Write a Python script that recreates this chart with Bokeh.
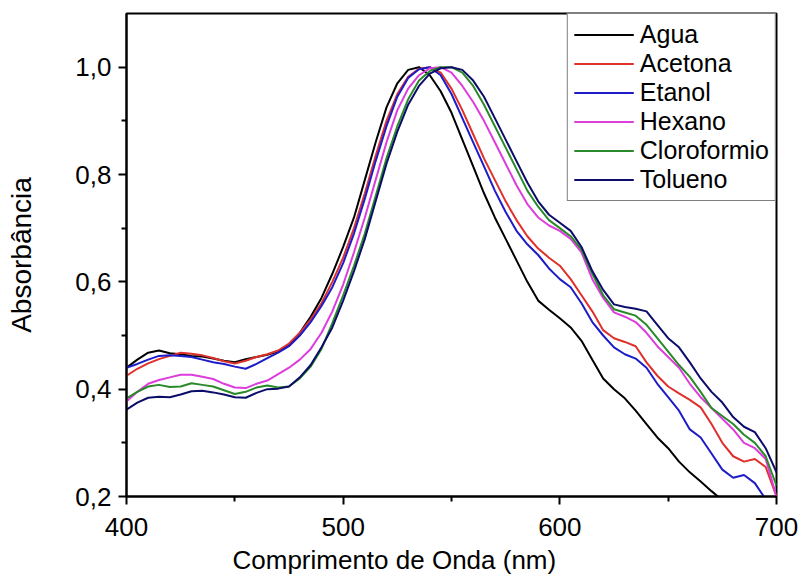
from bokeh.plotting import figure
from bokeh.embed import file_html
from bokeh.resources import INLINE
from bokeh.models import FixedTicker, CustomJSTickFormatter, Range1d, Legend, LegendItem, Title

wavelength = list(range(400, 705, 5))

agua = [0.440, 0.455, 0.468, 0.472, 0.467, 0.465, 0.462, 0.461, 0.457, 0.453,
        0.450, 0.456, 0.460, 0.464, 0.470, 0.482, 0.505, 0.535, 0.570, 0.615,
        0.665, 0.720, 0.790, 0.860, 0.925, 0.970, 0.995, 1.000, 0.985, 0.955,
        0.915, 0.865, 0.815, 0.765, 0.720, 0.680, 0.640, 0.600, 0.565, 0.548,
        0.532, 0.515, 0.490, 0.455, 0.420, 0.400, 0.383, 0.360, 0.335, 0.310,
        0.290, 0.265, 0.245, 0.228, 0.210, 0.193, 0.175, 0.160, 0.145, 0.130,
        0.120]
acetona = [0.425, 0.438, 0.448, 0.456, 0.462, 0.468, 0.466, 0.463, 0.458, 0.452,
           0.448, 0.453, 0.460, 0.465, 0.472, 0.485, 0.505, 0.530, 0.560, 0.600,
           0.645, 0.700, 0.765, 0.835, 0.900, 0.950, 0.982, 0.997, 1.000, 0.990,
           0.960, 0.920, 0.875, 0.830, 0.790, 0.750, 0.715, 0.685, 0.662, 0.645,
           0.630, 0.605, 0.575, 0.545, 0.510, 0.495, 0.488, 0.480, 0.450, 0.425,
           0.405, 0.392, 0.380, 0.366, 0.335, 0.300, 0.275, 0.265, 0.270, 0.255,
           0.200]
etanol = [0.440, 0.447, 0.455, 0.462, 0.463, 0.462, 0.460, 0.455, 0.450, 0.447,
          0.442, 0.438, 0.447, 0.458, 0.468, 0.480, 0.500, 0.525, 0.555, 0.590,
          0.635, 0.690, 0.755, 0.825, 0.890, 0.945, 0.980, 0.996, 1.000, 0.985,
          0.950, 0.905, 0.860, 0.815, 0.770, 0.730, 0.695, 0.670, 0.650, 0.625,
          0.605, 0.590, 0.560, 0.525, 0.500, 0.478, 0.465, 0.457, 0.440, 0.410,
          0.385, 0.360, 0.325, 0.310, 0.280, 0.250, 0.235, 0.240, 0.225, 0.195,
          0.170]
hexano = [0.377, 0.395, 0.410, 0.417, 0.422, 0.427, 0.427, 0.423, 0.419, 0.410,
          0.403, 0.402, 0.410, 0.416, 0.428, 0.440, 0.455, 0.475, 0.505, 0.545,
          0.595, 0.655, 0.720, 0.790, 0.860, 0.920, 0.960, 0.985, 0.998, 1.000,
          0.990, 0.965, 0.935, 0.900, 0.860, 0.820, 0.780, 0.745, 0.720, 0.705,
          0.695, 0.680, 0.655, 0.605, 0.570, 0.543, 0.535, 0.525, 0.505, 0.480,
          0.460, 0.440, 0.410, 0.385, 0.365, 0.345, 0.325, 0.300, 0.290, 0.270,
          0.200]
cloroformio = [0.383, 0.395, 0.405, 0.408, 0.404, 0.405, 0.411, 0.408, 0.405, 0.398,
               0.391, 0.395, 0.403, 0.407, 0.403, 0.405, 0.420, 0.442, 0.475, 0.523,
               0.575, 0.630, 0.690, 0.760, 0.830, 0.890, 0.940, 0.975, 0.993, 1.000,
               1.000, 0.990, 0.965, 0.930, 0.890, 0.850, 0.810, 0.770, 0.740, 0.715,
               0.700, 0.685, 0.660, 0.615, 0.575, 0.549, 0.543, 0.537, 0.520, 0.495,
               0.470, 0.445, 0.423, 0.395, 0.365, 0.350, 0.335, 0.315, 0.300, 0.275,
               0.220]
tolueno = [0.362, 0.375, 0.384, 0.386, 0.385, 0.390, 0.396, 0.397, 0.394, 0.390,
           0.385, 0.384, 0.393, 0.400, 0.401, 0.405, 0.422, 0.445, 0.478, 0.515,
           0.565, 0.620, 0.680, 0.750, 0.820, 0.880, 0.930, 0.965, 0.988, 0.998,
           1.000, 0.995, 0.975, 0.945, 0.905, 0.865, 0.825, 0.785, 0.750, 0.725,
           0.710, 0.695, 0.665, 0.620, 0.585, 0.558, 0.553, 0.550, 0.545, 0.520,
           0.495, 0.478, 0.450, 0.420, 0.395, 0.375, 0.348, 0.330, 0.320, 0.290,
           0.245]

series_names = ["Agua", "Acetona", "Etanol", "Hexano", "Cloroformio", "Tolueno"]
series_values = [agua, acetona, etanol, hexano, cloroformio, tolueno]
colors = ["#000000", "#e0302c", "#1c1cc8", "#dd3ddd", "#2a8a2a", "#0c0c6a"]

x_ticks = [400, 500, 600, 700]
x_minor = [450, 550, 650]
y_ticks = [0.2, 0.4, 0.6, 0.8, 1.0]
y_minor = [0.3, 0.5, 0.7, 0.9]
x_title = "Comprimento de Onda (nm)"
y_title = "Absorbância"

FONT = "Liberation Sans"

p = figure(width=801, height=587, output_backend="svg", toolbar_location=None,
           x_range=Range1d(400, 700), y_range=Range1d(0.2, 1.1),
           min_border_left=126, min_border_right=25, min_border_top=13,
           min_border_bottom=91)

renderers = []
for name, vals, col in zip(series_names, series_values, colors):
    r = p.line(wavelength, vals, line_color=col, line_width=2)
    renderers.append((name, r))

p.xgrid.visible = False
p.ygrid.visible = False
p.outline_line_color = "black"
p.outline_line_width = 2
p.outline_line_alpha = 1

p.xaxis.ticker = FixedTicker(ticks=x_ticks, minor_ticks=x_minor)
p.yaxis.ticker = FixedTicker(ticks=y_ticks, minor_ticks=y_minor)
p.yaxis.formatter = CustomJSTickFormatter(code="return tick.toFixed(1).replace('.', ',');")

for ax in (p.xaxis[0], p.yaxis[0]):
    ax.axis_line_color = "black"
    ax.axis_line_width = 2
    ax.major_tick_line_color = "black"
    ax.major_tick_line_width = 2
    ax.minor_tick_line_color = "black"
    ax.minor_tick_line_width = 2
    ax.major_tick_in = 0
    ax.major_tick_out = 8
    ax.minor_tick_in = 0
    ax.minor_tick_out = 5
    ax.major_label_text_font = FONT
    ax.major_label_text_font_size = "26px"
    ax.major_label_text_color = "black"
    ax.axis_label_text_font = FONT
    ax.axis_label_text_font_style = "normal"
    ax.axis_label_text_color = "black"
    ax.major_label_standoff = 7

p.xaxis.major_label_standoff = 13
p.yaxis.axis_label = y_title
p.yaxis.axis_label_text_font_size = "28px"
p.yaxis.axis_label_standoff = 35

# x title sits left of the frame centre in the original
p.add_layout(Title(text=x_title, align="left", offset=106, standoff=8,
                   vertical_align="bottom",
                   text_font=FONT, text_font_size="26px",
                   text_font_style="normal", text_color="black"), "below")

legend = Legend(items=[LegendItem(label=n, renderers=[r]) for n, r in renderers],
                location="top_right")
legend.label_text_font = FONT
legend.label_text_font_size = "25px"
legend.label_text_color = "black"
legend.glyph_width = 60
legend.glyph_height = 29
legend.label_height = 29
legend.spacing = 0
legend.padding = 6
legend.margin = 0
legend.label_standoff = 6
legend.border_line_color = "black"
legend.border_line_width = 1
legend.background_fill_alpha = 1
p.add_layout(legend)

open("out.html", "w").write(file_html(p, INLINE))
